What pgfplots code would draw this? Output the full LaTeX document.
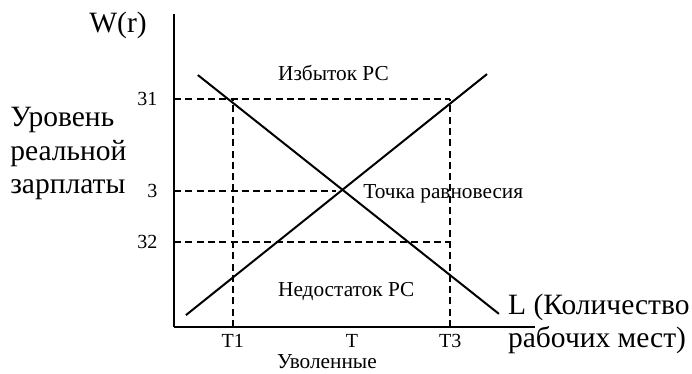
\documentclass[border=0pt]{standalone}
\usepackage{fontspec}
\setmainfont{Liberation Serif}
\usepackage{pgfplots}
\pgfplotsset{compat=1.18}
\newcommand\bigtxt{\fontsize{29.5}{34}\selectfont}
\newcommand\midtxt{\fontsize{21.3}{25}\selectfont}
\newcommand\ticktxt{\fontsize{20}{23}\selectfont}
\begin{document}
\begin{tikzpicture}
\path[use as bounding box] (0,0) rectangle (692pt,373pt);
\begin{axis}[
  at={(174pt,46pt)}, anchor=south west,
  x=36.1pt, y=31.3pt,
  xmin=0, xmax=10, ymin=0, ymax=10,
  axis lines=left,
  axis line style={-, line width=2.2pt},
  clip=false,
  xtick={1.63,4.93,7.65}, xticklabels={T1,T,T3},
  ytick={2.72,4.35,7.28}, yticklabels={32,3,31},
  major tick length=0pt,
  tick label style={font=\ticktxt},
  xticklabel style={anchor=base, yshift=-20pt},
  yticklabel style={anchor=east, xshift=-13pt},
  /pgf/number format/assume math mode=true,
  every axis plot/.append style={black},
  level/.style={dash pattern=on 7pt off 4.3pt, line width=1.8pt},
]
% labour supply and demand
\addplot[line width=2pt] coordinates {(0.33,0.38) (8.67,8.08)};
\addplot[line width=2pt] coordinates {(0.66,8.05) (9.0,0.42)};
% wage levels and employment levels
\addplot[level] coordinates {(0,7.28) (7.65,7.28)};
\addplot[level] coordinates {(0,4.35) (4.5,4.35)};
\addplot[level] coordinates {(0,2.72) (7.65,2.72)};
\addplot[level] coordinates {(1.63,0) (1.63,7.28)};
\addplot[level] coordinates {(7.65,0) (7.65,7.28)};
% labels
\node[anchor=base, font=\bigtxt, inner sep=0pt] at (axis cs:-1.55,9.42) {W(r)};
\node[anchor=base west, font=\bigtxt, inner sep=0pt] at (axis cs:-4.54,6.39) {Уровень};
\node[anchor=base west, font=\bigtxt, inner sep=0pt] at (axis cs:-4.54,5.33) {реальной};
\node[anchor=base west, font=\bigtxt, inner sep=0pt] at (axis cs:-4.54,4.28) {зарплаты};
\node[anchor=base west, font=\bigtxt, inner sep=0pt] at (axis cs:9.25,0.415) {L (Количество};
\node[anchor=base west, font=\bigtxt, inner sep=0pt] at (axis cs:9.25,-0.64) {рабочих мест)};
\node[anchor=base west, font=\midtxt, inner sep=0pt] at (axis cs:2.88,7.89) {Избыток РС};
\node[anchor=base west, font=\midtxt, inner sep=0pt] at (axis cs:5.24,4.12) {Точка равновесия};
\node[anchor=base west, font=\midtxt, inner sep=0pt] at (axis cs:2.88,0.96) {Недостаток РС};
\node[anchor=base west, font=\midtxt, inner sep=0pt] at (axis cs:2.85,-1.31) {Уволенные};
\end{axis}
\end{tikzpicture}
\end{document}
